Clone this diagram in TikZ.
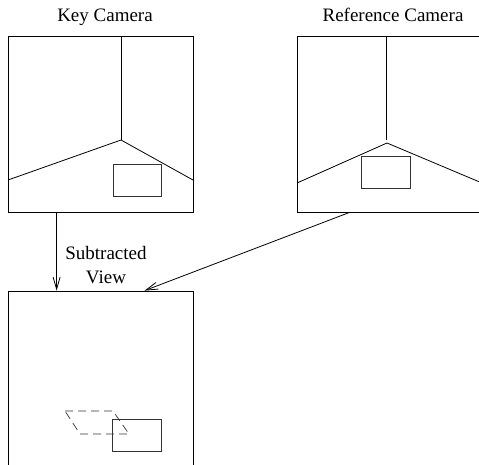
\documentclass[tikz,border=0pt]{standalone}
\usepackage{fontspec}
\setmainfont{Liberation Serif}
\usetikzlibrary{arrows.meta,calc}
\begin{document}
\begin{tikzpicture}[x=1pt,y=-1pt,line width=0.8pt,
  view/.style={draw,minimum width=185pt,minimum height=176pt,inner sep=0pt},
  caption/.style={font=\fontsize{19}{24}\selectfont,inner sep=0pt},
  wall/.style={draw,line width=0.8pt},
  target/.style={draw,line width=0.7pt,black!80},
  ghost/.style={draw,line width=0.7pt,black!80,dash pattern=on 8pt off 5pt},
  link/.style={-{Straight Barb[length=12pt,width=7pt]}}]
\clip (0,0) rectangle (479,465);

% the three camera views
\node[view] (key) at (100.5,124) {};
\node[view] (ref) at (389.5,124) {};
\node[view] (sub) at (100.5,379) {};

% titles
\node[caption,anchor=base] (keyt) at (105,21.5) {Key Camera};
\node[caption,anchor=base] (reft) at (393,21.5) {Reference Camera};
\node[caption,align=center] (subt) at (106,265.5) {Subtracted\\View};

% key camera: room corner and object
\coordinate (kc) at (121,140);
\draw[wall] (key.north -| kc) -- (kc);
\draw[wall] (8,180) -- (kc) -- (193,180);
\draw[target] (113,164) rectangle (161,196);

% reference camera: room corner and object
\coordinate (rc) at (387,143);
\draw[wall] (386,36) -- (386,140);
\draw[wall] (297,183) -- (rc) -- (482,183);
\draw[target] (361,156) rectangle (410,188);

% subtracted view: object and its displaced copy
\draw[target] (112,419) rectangle (161,451);
\draw[ghost] (65,411) -- (113,411) -- (129,434) -- (80,434) -- cycle;

% connectors
\coordinate (kout) at ($(key.south west)+(49,0)$);
\coordinate (rout) at ($(ref.south west)+(53,0)$);
\coordinate (sin) at ($(sub.north west)+(137,0)$);
\draw[link] (kout) -- (kout |- sub.north);
\draw[link] (rout) -- (sin);
\end{tikzpicture}
\end{document}
